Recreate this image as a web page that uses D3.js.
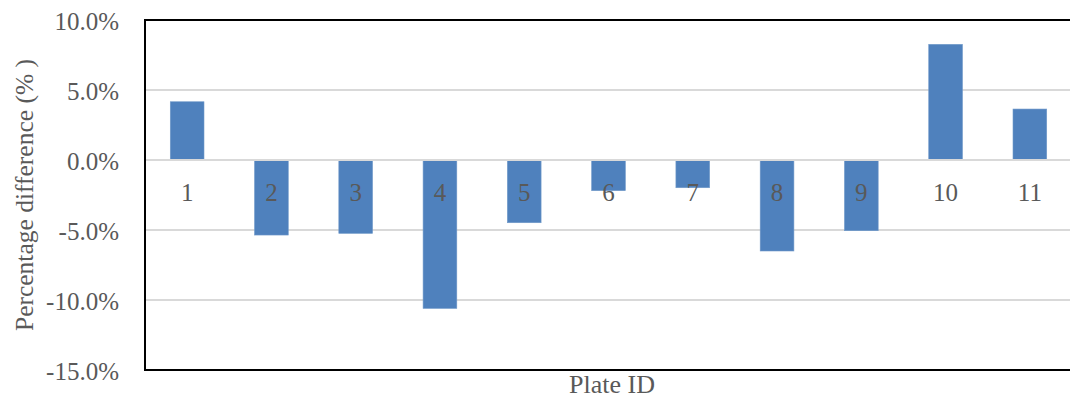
<!DOCTYPE html>
<html>
<head>
<meta charset="utf-8">
<script src="https://cdn.jsdelivr.net/npm/d3@7"></script>
<style>
  html, body { margin: 0; padding: 0; background: #fff; overflow: hidden; }
  svg { display: block; }
  text { font-family: "Liberation Serif", "Times New Roman", serif; fill: #595959; }
</style>
</head>
<body>
<svg id="chart" width="1070" height="405"></svg>
<script>
// Plate identifiers and their percentage differences
const plates = ["1", "2", "3", "4", "5", "6", "7", "8", "9", "10", "11"];
const diffs = [4.16, -5.36, -5.24, -10.6, -4.48, -2.19, -1.98, -6.5, -5.05, 8.26, 3.64];
const yTicks = [10, 5, 0, -5, -10, -15];

const svg = d3.select("#chart");
const plot = { left: 145, right: 1072, top: 20, bottom: 370 };

const x = d3.scaleBand()
  .domain(plates)
  .range([plot.left, plot.right])
  .paddingInner(0.6)
  .paddingOuter(0.3);

const y = d3.scaleLinear()
  .domain([-15, 10])
  .range([plot.bottom, plot.top]);

// horizontal gridlines
svg.append("g")
  .selectAll("line")
  .data(yTicks.filter(t => t !== 10 && t !== -15))
  .join("line")
  .attr("x1", plot.left).attr("x2", plot.right)
  .attr("y1", d => y(d)).attr("y2", d => y(d))
  .attr("stroke", "#d9d9d9")
  .attr("stroke-width", 2);

// bars
svg.append("g")
  .selectAll("rect")
  .data(plates.map((p, i) => ({ p, v: diffs[i] })))
  .join("rect")
  .attr("x", d => x(d.p))
  .attr("width", x.bandwidth())
  .attr("y", d => y(Math.max(0, d.v)))
  .attr("height", d => Math.abs(y(d.v) - y(0)))
  .attr("fill", "#4f81bd")
  .attr("stroke", "#6f98c9")
  .attr("stroke-width", 0.6);

// zero line drawn over the bars
svg.append("line")
  .attr("x1", plot.left).attr("x2", plot.right)
  .attr("y1", y(0)).attr("y2", y(0))
  .attr("stroke", "#d9d9d9")
  .attr("stroke-width", 2);

// plot frame
svg.append("rect")
  .attr("x", plot.left).attr("y", plot.top)
  .attr("width", plot.right - plot.left)
  .attr("height", plot.bottom - plot.top)
  .attr("fill", "none")
  .attr("stroke", "#000")
  .attr("stroke-width", 2);

// category labels just under the zero line
const xAxis = d3.axisBottom(x).tickSize(0).tickPadding(0);
const gx = svg.append("g")
  .attr("transform", `translate(0,${y(0)})`)
  .call(xAxis);
gx.select(".domain").remove();
gx.selectAll("text")
  .attr("y", 41)
  .attr("dy", 0)
  .style("font-size", "25px")
  .style("font-family", "'Liberation Serif', serif")
  .attr("fill", "#595959");

// y axis tick labels
const yAxis = d3.axisLeft(y)
  .tickValues(yTicks)
  .tickSize(0)
  .tickPadding(26)
  .tickFormat(d => d.toFixed(1) + "%");
const gy = svg.append("g")
  .attr("transform", `translate(${plot.left},0)`)
  .call(yAxis);
gy.select(".domain").remove();
gy.selectAll("text")
  .attr("dy", 9)
  .style("font-size", "25px")
  .style("font-family", "'Liberation Serif', serif")
  .attr("fill", "#595959");

// axis titles
svg.append("text")
  .attr("transform", `translate(33,${(plot.top + plot.bottom) / 2}) rotate(-90)`)
  .attr("text-anchor", "middle")
  .style("font-size", "25.5px")
  .text("Percentage difference (% )");

svg.append("text")
  .attr("x", 612)
  .attr("y", 393)
  .attr("text-anchor", "middle")
  .style("font-size", "26px")
  .text("Plate ID");
</script>
</body>
</html>
